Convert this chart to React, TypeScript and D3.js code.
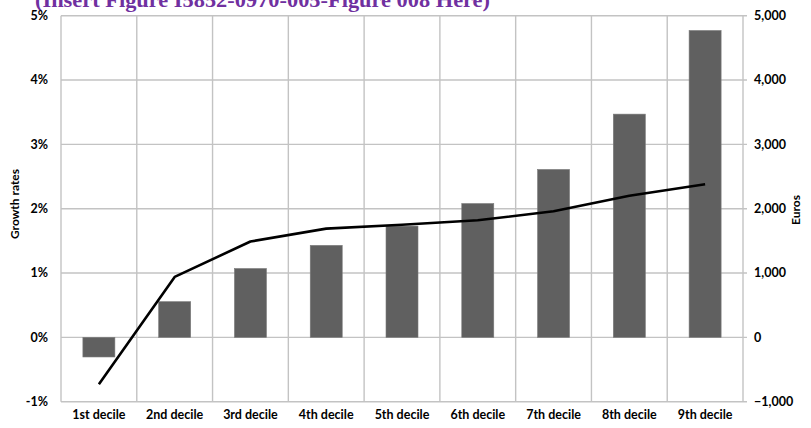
import React from "react";
import * as d3 from "d3";

const categories = ["1st decile", "2nd decile", "3rd decile", "4th decile", "5th decile", "6th decile", "7th decile", "8th decile", "9th decile"];
const eurosValues = [-305, 555, 1070, 1430, 1730, 2080, 2610, 3470, 4770];
const growthValues = [-0.73, 0.94, 1.49, 1.69, 1.75, 1.82, 1.96, 2.2, 2.38];
const leftTicks = [-1, 0, 1, 2, 3, 4, 5];
const rightTicks = [-1000, 0, 1000, 2000, 3000, 4000, 5000];
const titleText = "(Insert Figure I5852-0970-005-Figure 008 Here)";

const W = 811;
const H = 428;
const M = { left: 61, right: 743, top: 15.7, bottom: 401.7 };
const FONT = "Lato, 'Open Sans', sans-serif";
const FS = 12.5;

export default function App() {
  const x = d3.scaleBand<string>().domain(categories).range([M.left, M.right]).paddingInner(0).paddingOuter(0);
  const yL = d3.scaleLinear().domain([-1, 5]).range([M.bottom, M.top]);
  const yR = d3.scaleLinear().domain([-1000, 5000]).range([M.bottom, M.top]);
  const barW = 32;
  const line = d3
    .line<number>()
    .x((_, i) => (x(categories[i]) as number) + x.bandwidth() / 2)
    .y((d) => yL(d))
    .curve(d3.curveLinear);
  const fmt = d3.format(",");
  const grid = "#c3c3c3";

  return (
    <svg width={W} height={H} style={{ position: "absolute", left: 0, top: 0, background: "#fff" }}>
      <text
        x={35}
        y={6.5}
        fontFamily="'Liberation Serif', 'DejaVu Serif', serif"
        fontWeight="bold"
        fontSize={20}
        fill="#7030a0"
        textLength={455}
        lengthAdjust="spacingAndGlyphs"
      >
        {titleText}
      </text>
      {leftTicks.map((t) => (
        <line key={"h" + t} x1={M.left} x2={M.right + 4} y1={yL(t)} y2={yL(t)} stroke={grid} strokeWidth={1.4} />
      ))}
      {d3.range(categories.length + 1).map((i) => {
        const xx = M.left + i * x.bandwidth();
        return <line key={"v" + i} x1={xx} x2={xx} y1={M.top} y2={M.bottom} stroke={grid} strokeWidth={1.4} />;
      })}
      {eurosValues.map((v, i) => {
        const cx = (x(categories[i]) as number) + x.bandwidth() / 2;
        const y0 = yR(0);
        const y1 = yR(v);
        return (
          <rect
            key={"b" + i}
            x={cx - barW / 2}
            y={Math.min(y0, y1)}
            width={barW}
            height={Math.abs(y1 - y0)}
            fill="#606060"
            stroke="#7a7a7a"
            strokeWidth={0.6}
          />
        );
      })}
      <path d={line(growthValues) || ""} fill="none" stroke="#000" strokeWidth={2.6} strokeLinejoin="round" />
      {leftTicks.map((t) => (
        <text key={"lt" + t} x={48} y={yL(t)} dy="0.35em" textAnchor="end" fontFamily={FONT} fontWeight="bold" fontSize={FS} fill="#000">
          {t + "%"}
        </text>
      ))}
      {rightTicks.map((t) => (
        <text key={"rt" + t} x={754} y={yR(t)} dy="0.35em" textAnchor="start" fontFamily={FONT} fontWeight="bold" fontSize={FS} fill="#000">
          {fmt(t)}
        </text>
      ))}
      {categories.map((c) => (
        <text
          key={"x" + c}
          x={(x(c) as number) + x.bandwidth() / 2}
          y={415}
          dy="0.35em"
          textAnchor="middle"
          fontFamily={FONT}
          fontWeight="bold"
          fontSize={FS}
          fill="#000"
        >
          {c}
        </text>
      ))}
      <text transform={`translate(15,${204}) rotate(-90)`} textAnchor="middle" dy="0.35em" fontFamily={FONT} fontWeight="bold" fontSize={12} fill="#000">
        Growth rates
      </text>
      <text transform={`translate(796,${210}) rotate(-90)`} textAnchor="middle" dy="0.35em" fontFamily={FONT} fontWeight="bold" fontSize={12} fill="#000">
        Euros
      </text>
    </svg>
  );
}
